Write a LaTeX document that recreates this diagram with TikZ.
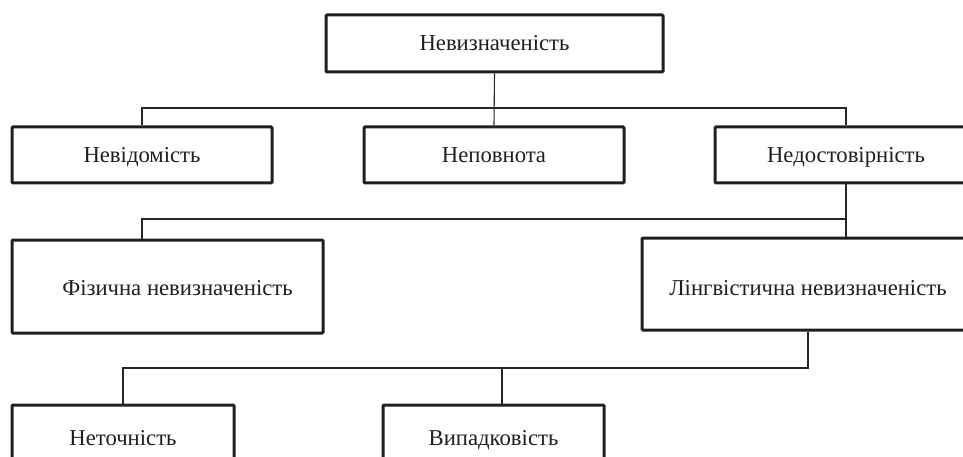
\documentclass[tikz,border=0pt]{standalone}
\usepackage{fontspec}
\setmainfont{Liberation Serif}
\usetikzlibrary{calc}
\begin{document}
\begin{tikzpicture}[x=1pt,y=-1pt,
  box/.style={draw=black!88,line width=3pt,rounded corners=1pt,fill=white,inner sep=0pt,
    font=\fontsize{22.7}{27}\selectfont,text=black!88,text height=15pt,text depth=0pt},
  link/.style={draw=black!85,line width=1.1pt}]
\useasboundingbox (0,0) rectangle (963,457);
\clip (0,0) rectangle (963,457);
% boxes
\node[box,minimum width=337pt,minimum height=57pt] (u) at (494.5,43.5) {Невизначеність};
\node[box,minimum width=260pt,minimum height=56pt] (a) at (142,155) {Невідомість};
\node[box,minimum width=260pt,minimum height=56pt] (b) at (494,155) {Неповнота};
\node[box,minimum width=262pt,minimum height=56pt] (c) at (846,155) {Недостовірність};
\node[box,minimum width=311pt,minimum height=93pt,text height=18pt] (d) at (167.5,286.5) {\hspace*{20pt}Фізична невизначеність};
\node[box,minimum width=332pt,minimum height=92pt,text height=22pt] (e) at (808,284) {Лінгвістична невизначеність};
\node[box,minimum width=222pt,minimum height=66pt] (f) at (123,438) {Неточність};
\node[box,minimum width=221pt,minimum height=66pt] (g) at (493.5,438) {Випадковість};
% junction levels
\coordinate (h1) at (0,108);
\coordinate (h2) at (0,219);
\coordinate (h3) at (0,368);
\coordinate (gv) at ($(g.north)+(8.5,0)$);
% connectors
\draw[link] (u.south) -- (b.north);
\draw[link] (a.north) -- (a.north |- h1) -- (c.north |- h1) -- (c.north);
\draw[link] (c.south) -- (c.south |- e.north);
\draw[link] (c.south |- h2) -- (a.south |- h2) -- (a.south |- d.north);
\draw[link] (e.south) -- (e.south |- h3) -- (f.north |- h3) -- (f.north);
\draw[link] (gv |- h3) -- (gv);
\end{tikzpicture}
\end{document}
